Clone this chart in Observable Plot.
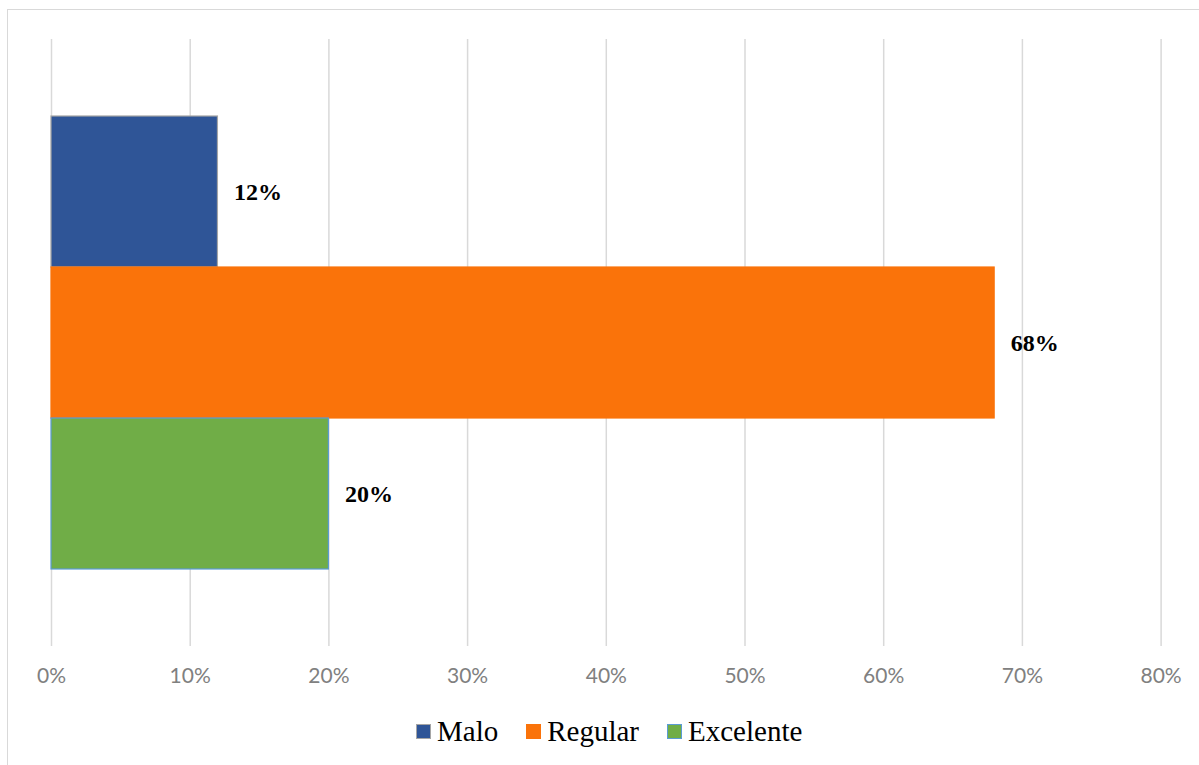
<!DOCTYPE html>
<html>
<head>
<meta charset="utf-8">
<script src="https://cdn.jsdelivr.net/npm/d3@7"></script>
<script src="https://cdn.jsdelivr.net/npm/@observablehq/plot@0.6"></script>
<style>
  html, body { margin: 0; padding: 0; background: #fff; width: 1199px; height: 765px; overflow: hidden; }
  #frame { position: absolute; left: 7px; top: 9px; width: 1200px; height: 800px; border: 1.5px solid #d9d9d9; box-sizing: border-box; }
  #chart { position: absolute; left: 0; top: 0; }
  #legend { position: absolute; left: 416px; top: 715px; display: flex; align-items: center;
            font-family: "Liberation Serif", "Times New Roman", serif; font-size: 29px; color: #000; }
  .item { display: flex; align-items: center; margin-right: 28px; }
  .sw { width: 13px; height: 13px; margin-right: 6px; border: 1.5px solid; }
</style>
</head>
<body>
<div id="frame"></div>
<div id="chart"></div>
<div id="legend"></div>
<script>
const categories = ["Malo", "Regular", "Excelente"];
const values = [0.12, 0.68, 0.20];
const labels = ["12%", "68%", "20%"];
const fills = ["#2F5597", "#FA730A", "#70AD47"];
const strokes = ["#A5A5A5", "#FA730A", "#5B9BD5"];
const xTicks = [0, 0.1, 0.2, 0.3, 0.4, 0.5, 0.6, 0.7, 0.8];

const data = categories.map((c, i) => ({cat: c, value: values[i], label: labels[i], fill: fills[i], stroke: strokes[i]}));

const plot = Plot.plot({
  width: 1199,
  height: 700,
  marginLeft: 51,
  marginRight: 38.4,
  marginTop: 39,
  marginBottom: 54,
  style: {background: "transparent", overflow: "visible"},
  x: {domain: [0, 0.8], ticks: xTicks, label: null, tickFormat: d => Math.round(d * 100) + "%"},
  y: {domain: categories, paddingInner: 0, paddingOuter: 0.5, axis: null},
  marks: [
    Plot.gridX(xTicks, {stroke: "#d9d9d9", strokeOpacity: 1, strokeWidth: 1.5}),
    Plot.axisX(xTicks, {tickSize: 0, tickPadding: 22, fontSize: 21, fill: "#808080", label: null,
      fontFamily: "Lato, 'Open Sans', sans-serif",
      tickFormat: d => Math.round(d * 100) + "%"}),
    Plot.barX(data, {x: "value", y: "cat", fill: d => d.fill, stroke: d => d.stroke, strokeWidth: 1.2, inset: 0}),
    Plot.text(data, {x: "value", y: "cat", text: "label", dx: 16, textAnchor: "start",
      fontSize: 24, fontWeight: "bold", fontFamily: "'Liberation Serif', 'Times New Roman', serif", fill: "#000"})
  ]
});
document.getElementById("chart").appendChild(plot);

const legend = document.getElementById("legend");
categories.forEach((c, i) => {
  const item = document.createElement("div");
  item.className = "item";
  const sw = document.createElement("span");
  sw.className = "sw";
  sw.style.background = fills[i];
  sw.style.borderColor = i === 1 ? fills[i] : strokes[i];
  const t = document.createElement("span");
  t.textContent = c;
  item.appendChild(sw);
  item.appendChild(t);
  legend.appendChild(item);
});
</script>
</body>
</html>
